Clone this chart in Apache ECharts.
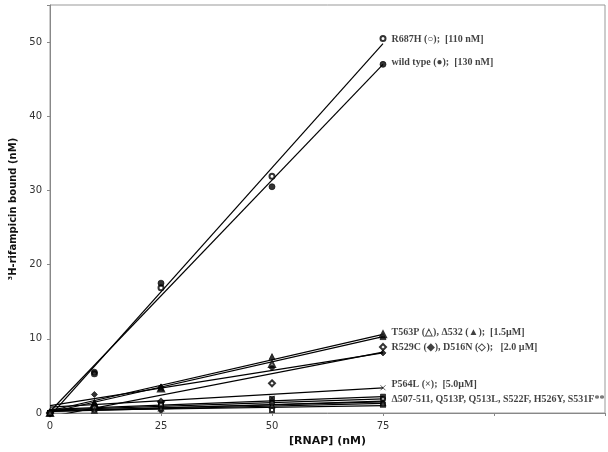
<!DOCTYPE html>
<html>
<head>
<meta charset="utf-8">
<script src="https://cdn.jsdelivr.net/npm/echarts@6/dist/echarts.min.js"></script>
<style>
  html, body { margin: 0; padding: 0; background: #fff; }
  #chart { width: 608px; height: 452px; }
</style>
</head>
<body>
<div id="chart"></div>
<script>
// RNAP concentrations (nM)
const doses = [0, 10, 25, 50, 75]

// bound rifampicin (nM), one array per strain
const r687h = [0, 5.3, 16.9, 31.9, 50.5]
const wildType = [0, 5.5, 17.5, 30.5, 47.0]
const t563p = [0, 1.2, 3.3, 6.6, 10.6]
const d532 = [0, 1.4, 3.4, 7.6, 10.3]
const r529c = [0, 2.5, 3.5, 6.1, 8.1]
const d516n = [0, 0.8, 1.5, 4.0, 8.9]
const p564l = [0, 1.0, 1.2, 2.0, 3.4]
const d507 = [0, 0.8, 1.3, 1.9, 2.2]
const q513p = [0, 0.5, 1.0, 0.4, 1.1]
const q513l = [0, 0.6, 0.3, 1.5, 1.7]
const s522f = [0, 0.7, 1.1, 1.3, 1.9]
const h526y = [0, 0.4, 0.8, 1.2, 1.5]
const s531f = [0, 0.3, 0.6, 1.0, 1.3]

// trend line ends (value at 0 nM and at 75 nM)
const trendStart = [-0.4, 0.2, 0.3, 0.1, 1.0, -0.5, 0.8, 0.5, 0.3, 0.2, 0.4, 0.3, 0.2]
const trendEnd = [49.8, 47.0, 10.6, 10.3, 8.1, 8.2, 3.4, 2.2, 1.0, 1.6, 1.9, 1.5, 1.3]

// right hand annotations
const noteTexts = [
  'R687H (○);  [110 nM]',
  'wild type (●);  [130 nM]',
  'T563P (△), Δ532 (▲);  [1.5µM]',
  'R529C (◆), D516N (◇);   [2.0 µM]',
  'P564L (×);  [5.0µM]',
  'Δ507-511, Q513P, Q513L, S522F, H526Y, S531F**'
]
const noteAt = [50.4, 47.3, 10.8, 8.8, 3.8, 1.8]

const xTicks = [0, 25, 50, 75]
const yTicks = [0, 10, 20, 30, 40, 50]

const cross = 'path://M0,0L10,10M10,0L0,10'
const dash = 'path://M0,5L10,5'

const strains = [
  { data: r687h, symbol: 'emptyCircle', size: 5 },
  { data: wildType, symbol: 'circle', size: 6 },
  { data: t563p, symbol: 'emptyTriangle', size: 6 },
  { data: d532, symbol: 'triangle', size: 6 },
  { data: r529c, symbol: 'diamond', size: 6 },
  { data: d516n, symbol: 'emptyDiamond', size: 6 },
  { data: p564l, symbol: cross, size: 5 },
  { data: d507, symbol: 'rect', size: 5 },
  { data: q513p, symbol: 'emptyRect', size: 4 },
  { data: q513l, symbol: 'circle', size: 4 },
  { data: s522f, symbol: 'emptyCircle', size: 4 },
  { data: h526y, symbol: dash, size: 5 },
  { data: s531f, symbol: 'emptyTriangle', size: 4 }
]

const series = []
strains.forEach((s, i) => {
  // 趋势线
  series.push({
    type: 'line',
    data: [[doses[0], trendStart[i]], [doses[doses.length - 1], trendEnd[i]]],
    showSymbol: false,
    silent: true,
    lineStyle: { color: '#000', width: 1.2 },
    z: 2
  })
  // 数据点
  series.push({
    type: 'scatter',
    data: doses.map((d, k) => [d, s.data[k]]),
    symbol: s.symbol,
    symbolSize: s.size,
    itemStyle: { color: '#000', borderColor: '#000', borderWidth: 0.8 },
    z: 3
  })
})

series.push({
  type: 'scatter',
  data: noteAt.map((v, i) => ({ value: [doses[doses.length - 1], v], name: noteTexts[i] })),
  symbolSize: 1,
  itemStyle: { color: 'rgba(0,0,0,0)' },
  label: {
    show: true,
    position: 'right',
    distance: 8,
    formatter: p => p.name,
    fontFamily: 'Liberation Serif',
    fontWeight: 'bold',
    fontSize: 10,
    color: '#111'
  },
  silent: true,
  z: 4
})

const chart = echarts.init(document.getElementById('chart'))
chart.setOption({
  animation: false,
  grid: {
    left: 46, right: 3, top: 5, bottom: 39,
    show: true, borderColor: '#999', borderWidth: 1
  },
  xAxis: {
    type: 'value',
    min: 0,
    max: 125,
    interval: 25,
    name: '[RNAP] (nM)',
    nameLocation: 'middle',
    nameGap: 22,
    nameTextStyle: { fontFamily: 'DejaVu Sans', fontWeight: 'bold', fontSize: 11, color: '#111' },
    axisLine: { lineStyle: { color: '#888' } },
    axisTick: { length: 3, lineStyle: { color: '#888' } },
    axisLabel: {
      margin: 8,
      fontFamily: 'DejaVu Sans',
      fontSize: 10,
      color: '#333',
      formatter: v => xTicks.includes(v) ? String(v) : ''
    },
    splitLine: { show: false }
  },
  yAxis: {
    type: 'value',
    min: 0,
    max: 55,
    interval: 10,
    name: '³H-rifampicin bound (nM)',
    nameLocation: 'middle',
    nameGap: 32,
    nameTextStyle: { fontFamily: 'DejaVu Sans', fontWeight: 'bold', fontSize: 10, color: '#111' },
    axisLine: { show: true, lineStyle: { color: '#888' } },
    axisTick: { show: true, length: 3, lineStyle: { color: '#888' } },
    axisLabel: {
      margin: 8,
      fontFamily: 'DejaVu Sans',
      fontSize: 10,
      color: '#333',
      formatter: v => yTicks.includes(v) ? String(v) : ''
    },
    splitLine: { show: false }
  },
  series: series
})
</script>
</body>
</html>
